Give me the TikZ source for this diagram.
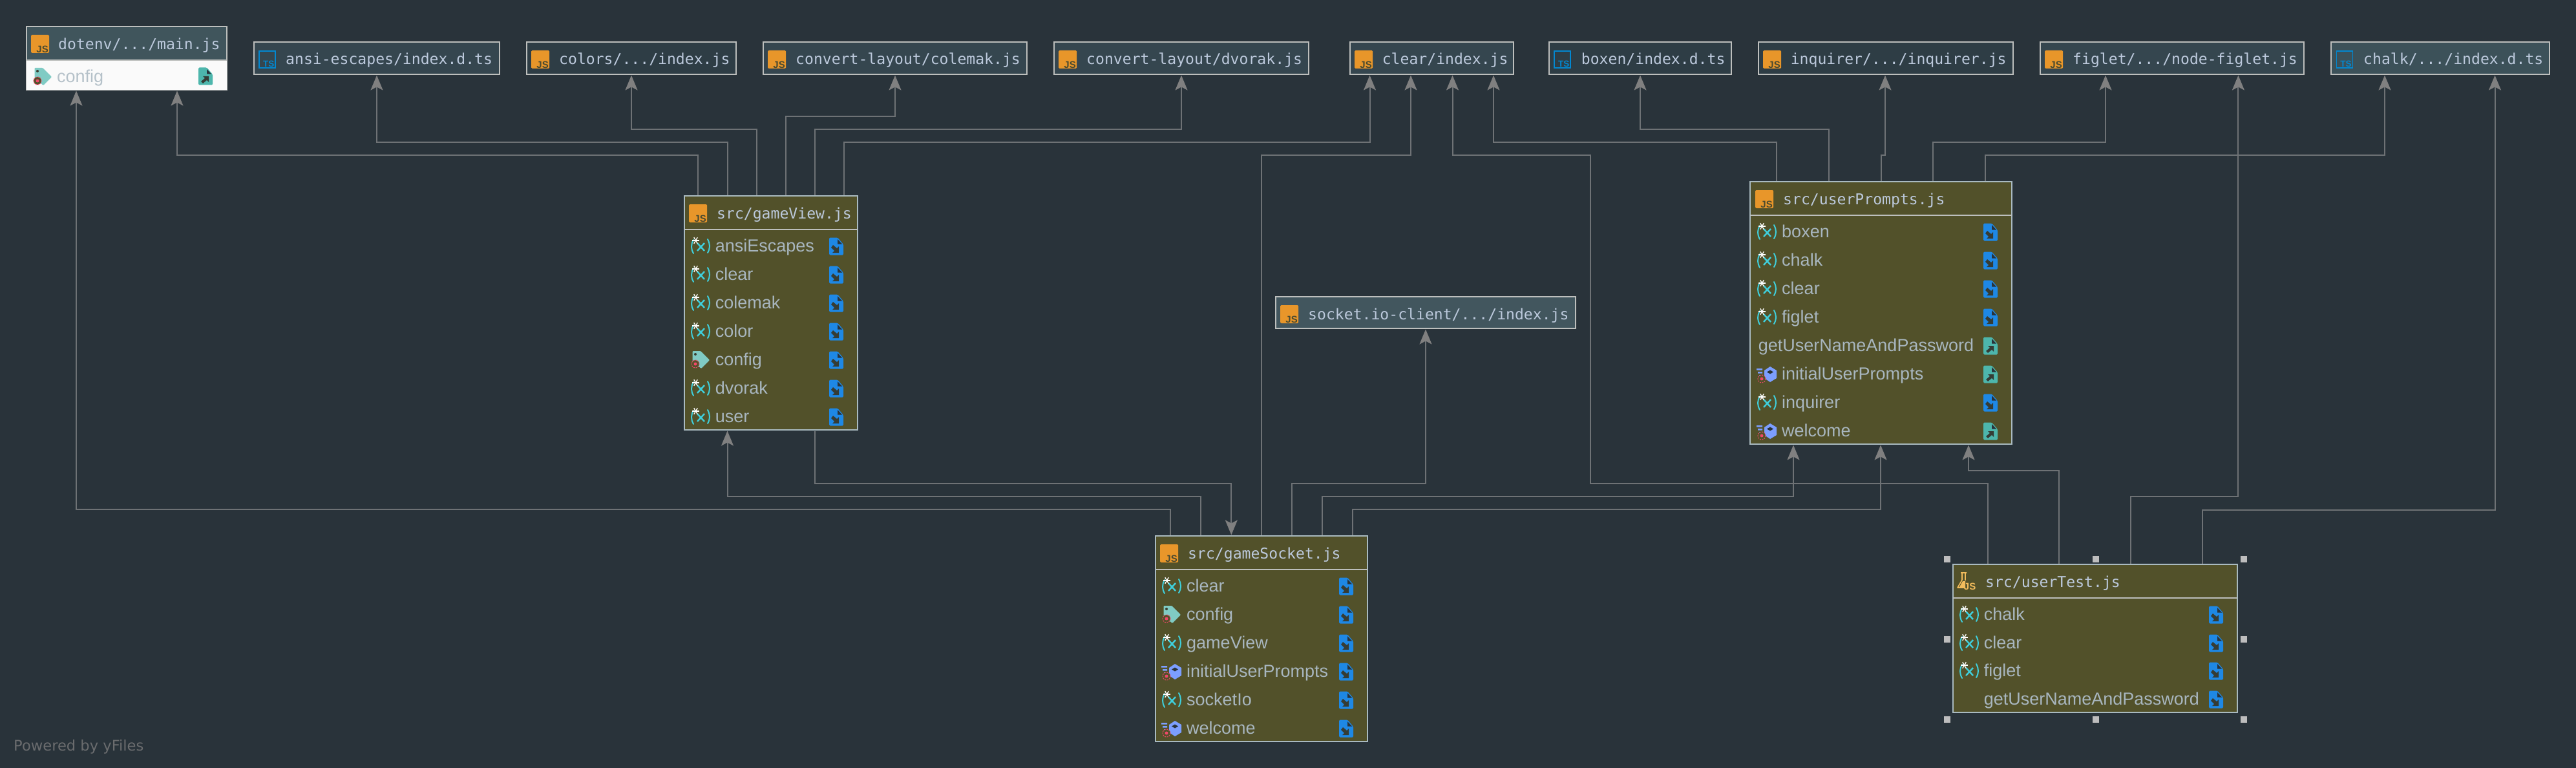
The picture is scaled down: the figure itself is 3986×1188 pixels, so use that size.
\documentclass[tikz,border=0pt]{standalone}
\usepackage{fontspec}
\setmainfont{Liberation Sans}
\setmonofont{DejaVu Sans Mono}
\newfontfamily\dvs{DejaVu Sans}
\usetikzlibrary{arrows.meta,calc}
\definecolor{bgc}{HTML}{29333A}
\definecolor{srcfill}{HTML}{52512A}
\definecolor{srcline}{HTML}{A9BAC0}
\definecolor{topline}{HTML}{BDBFBD}
\definecolor{connc}{HTML}{6E7275}
\definecolor{tipc}{HTML}{808080}
\definecolor{headtxt}{HTML}{BCC9DC}
\definecolor{bodytxt}{HTML}{A8B6BF}
\definecolor{jsorange}{HTML}{E8962A}
\definecolor{jsdark}{HTML}{4A4A30}
\definecolor{tsblue}{HTML}{0288D1}
\definecolor{fileblue}{HTML}{1E88E5}
\definecolor{fileteal}{HTML}{4DB6AC}
\definecolor{varcyan}{HTML}{3FCFDC}
\definecolor{tagteal}{HTML}{80CBC4}
\definecolor{boxviolet}{HTML}{7C9EFF}
\definecolor{redring}{HTML}{F0476A}
\definecolor{testyellow}{HTML}{F3BC5C}
\definecolor{handle}{HTML}{BDBDBD}
\definecolor{fa}{HTML}{40555C}
\definecolor{fb}{HTML}{35464F}
\definecolor{fc}{HTML}{2E3D45}
\definecolor{fd}{HTML}{3C5159}
\definecolor{fe}{HTML}{42565E}
\tikzset{
  x=1pt,y=-1pt,
  conn/.style={draw=connc,line width=2pt,rounded corners=0pt},
  arrowed/.style={conn,-{Stealth[length=23pt,width=19pt,inset=5pt,color=tipc]}},
  boxbase/.style={rectangle,inner sep=0pt,outer sep=1.5pt,line width=2pt},
  srcbox/.style={boxbase,draw=srcline,fill=srcfill},
  topbox/.style={boxbase,draw=topline},
  headlabel/.style={anchor=base west,yshift=-9.5pt,inner sep=0pt,text=headtxt,font=\ttfamily\fontsize{23.1}{26}\selectfont},
  rowlabel/.style={anchor=base west,yshift=-8.5pt,inner sep=0pt,text=bodytxt,font=\rmfamily\fontsize{27}{30}\selectfont},
  powered/.style={anchor=west,inner sep=0pt,text=gray!75!bgc,font=\dvs\fontsize{22.6}{26}\selectfont},
  sel/.style={fill=handle,draw=none,minimum size=10pt,inner sep=0pt,rectangle},
}
% box: name, x0,y0,x1,y1 (outer edges), style
\newcommand{\mkbox}[6]{%
  \pgfmathsetmacro{\bw}{#4-#2-2}\pgfmathsetmacro{\bh}{#5-#3-2}%
  \pgfmathsetmacro{\bcx}{(#2+#4)/2}\pgfmathsetmacro{\bcy}{(#3+#5)/2}%
  \node[#6,minimum width=\bw pt,minimum height=\bh pt] (#1) at (\bcx,\bcy) {};}
% icons: x = left, y = centre line
\newcommand{\jsic}[2]{\fill[jsorange,rounded corners=1.5pt] (#1,#2-14) rectangle ++(28,28);
  \node[anchor=south east,inner sep=0pt,text=jsdark,font=\rmfamily\bfseries\fontsize{15}{15}\selectfont] at (#1+27,#2+14) {JS};}
\newcommand{\tsic}[2]{\draw[tsblue,line width=1.3pt] (#1,#2-13) rectangle ++(25,26);
  \node[anchor=south east,inner sep=0pt,text=tsblue,font=\rmfamily\bfseries\fontsize{13.5}{14}\selectfont] at (#1+23.5,#2+12) {TS};}
\newcommand{\fileic}[3]{% x left, y centre, colour
  \fill[#3,rounded corners=1.5pt] (#1,#2-13.5) -- (#1+13,#2-13.5) -- (#1+22,#2-3) -- (#1+22,#2+13.5) -- (#1,#2+13.5) -- cycle;
  \fill[bgc] (#1+13,#2-11) -- (#1+20,#2-3.5) -- (#1+13,#2-3.5) -- cycle;}
\newcommand{\inarrow}[2]{\fill[srcfill!30!bgc] (#1+6,#2-2) -- (#1+12,#2+3) -- (#1+15,#2) -- (#1+15,#2+10) -- (#1+5,#2+10) -- (#1+8,#2+7) -- (#1+3,#2+2) -- cycle;}
\newcommand{\outarrow}[2]{\fill[srcfill!30!bgc] (#1+4,#2+8) -- (#1+10,#2+3) -- (#1+7,#2) -- (#1+16,#2) -- (#1+16,#2+9) -- (#1+13,#2+6) -- (#1+7,#2+11) -- cycle;}
\newcommand{\fin}[2]{\fileic{#1}{#2}{fileblue}\inarrow{#1}{#2}}
\newcommand{\fout}[2]{\fileic{#1}{#2}{fileteal}\outarrow{#1}{#2}}
\newcommand{\varic}[2]{% x left, y centre
  \draw[varcyan,line width=2pt,line cap=round] (#1+3,#2-10) .. controls (#1-1,#2-3) and (#1-1,#2+4) .. (#1+3,#2+11);
  \draw[varcyan,line width=2pt,line cap=round] (#1+25,#2-11) .. controls (#1+29,#2-3) and (#1+29,#2+3) .. (#1+25,#2+10);
  \draw[varcyan,line width=2.4pt] (#1+9,#2-5) -- (#1+20,#2+7) (#1+20,#2-5) -- (#1+9,#2+7);
  \foreach \ang in {0,60,120}{\draw[white,line width=1.3pt] ($(#1+6.5,#2-9)+(\ang:5.5)$) -- ($(#1+6.5,#2-9)+(\ang+180:5.5)$);}}
\newcommand{\ringic}[2]{\draw[redring,line width=1pt,dash pattern=on 2pt off 1.5pt,fill=srcfill] (#1,#2) circle (6);
  \fill[redring] (#1,#2) circle (2.5);}
\newcommand{\tagic}[2]{% x left, y centre
  \fill[tagteal,rounded corners=1pt] (#1+1.5,#2-14) -- (#1+14,#2-14) -- (#1+28,#2) -- (#1+15,#2+13) -- (#1+1.5,#2+2) -- cycle;
  \fill[srcfill!45!bgc] (#1+6,#2-9) circle (2);
  \ringic{#1+6}{#2+6}}
\newcommand{\boxic}[2]{% x left, y centre
  \fill[boxviolet] (#1+21,#2-12) -- (#1+31,#2-6) -- (#1+31,#2+6) -- (#1+21,#2+12) -- (#1+12,#2+6) -- (#1+12,#2-6) -- cycle;
  \fill[bgc] (#1+21,#2-6.5) -- (#1+26,#2-3.5) -- (#1+21,#2-.5) -- (#1+16,#2-3.5) -- cycle;
  \fill[boxviolet] (#1,#2-9) rectangle ++(9,2.5) (#1+2,#2-4) rectangle ++(7,2.5) (#1+4,#2+1) rectangle ++(5,2.5);
  \ringic{#1+8}{#2+7}}
\newcommand{\testic}[2]{% x left, y centre
  \draw[testyellow,line width=1.6pt,line join=round] (#1+5,#2-14) -- (#1+14,#2-14) (#1+7,#2-14) -- (#1+7,#2-3) -- (#1,#2+9) -- (#1+12,#2+9);
  \draw[testyellow,line width=1.6pt] (#1+12,#2-14) -- (#1+12,#2-2);
  \fill[testyellow] (#1+3,#2+8) -- (#1+8,#2-1) -- (#1+12,#2-1) -- (#1+12,#2+8) -- cycle;
  \node[anchor=south east,inner sep=0pt,text=testyellow,font=\rmfamily\bfseries\fontsize{15}{15}\selectfont] at (#1+28.5,#2+13) {JS};}
\newcommand{\rowv}[6]{\varic{#5}{#3}\node[rowlabel] (#1) at (#4,#3) {#2};\fin{#6}{#3}}
\begin{document}
\begin{tikzpicture}
\useasboundingbox (0,0) rectangle (3986,1188);
\fill[bgc] (0,0) rectangle (3986,1188);
% boxes
\mkbox{dotenv}{40}{40}{352}{140}{boxbase,draw=topline,fill=fa}
\mkbox{ansi}{392}{64}{774}{116}{topbox,fill=fb}
\mkbox{colors}{814}{64}{1140}{116}{topbox,fill=fc}
\mkbox{colemak}{1180}{64}{1590}{116}{topbox,fill=fb}
\mkbox{dvorak}{1630}{64}{2026}{116}{topbox,fill=fb}
\mkbox{clear}{2088}{64}{2343}{116}{topbox,fill=fb}
\mkbox{boxen}{2396}{64}{2680}{116}{topbox,fill=fc}
\mkbox{inquirer}{2720}{64}{3116}{116}{topbox,fill=fc}
\mkbox{figlet}{3155.5}{64}{3566}{116}{topbox,fill=fb}
\mkbox{chalk}{3606}{64}{3946}{116}{topbox,fill=fd}
\mkbox{socket}{1973}{458}{2439}{509}{topbox,fill=fe}
\mkbox{gv}{1058}{302}{1328}{666}{srcbox}
\mkbox{gs}{1787}{828}{2117}{1148}{srcbox}
\mkbox{up}{2707}{280}{3114}{688}{srcbox}
\mkbox{ut}{3020.7}{872}{3462.5}{1103}{srcbox}
% connectors
\draw[arrowed] (1080,0 |- gv.north) -- (1080,240) -- (274,240) -- (274,0 |- dotenv.south);
\draw[arrowed] (1125.5,0 |- gv.north) -- (1125.5,220) -- (583,220) -- (583,0 |- ansi.south);
\draw[arrowed] (1170.5,0 |- gv.north) -- (1170.5,200) -- (977,200) -- (977,0 |- colors.south);
\draw[arrowed] (1215.5,0 |- gv.north) -- (1215.5,180) -- (1385,180) -- (1385,0 |- colemak.south);
\draw[arrowed] (1260.5,0 |- gv.north) -- (1260.5,200) -- (1828,200) -- (1828,0 |- dvorak.south);
\draw[arrowed] (1305.5,0 |- gv.north) -- (1305.5,220) -- (2119.5,220) -- (2119.5,0 |- clear.south);
\draw[arrowed] (1810.6,0 |- gs.north) -- (1810.6,788) -- (118,788) -- (118,0 |- dotenv.south);
\draw[arrowed] (1857.6,0 |- gs.north) -- (1857.6,768) -- (1125.5,768) -- (1125.5,0 |- gv.south);
\draw[arrowed] (1260.5,0 |- gv.south) -- (1260.5,748) -- (1905.3,748) -- (1905.3,0 |- gs.north);
\draw[arrowed] (1952,0 |- gs.north) -- (1952,240) -- (2183,240) -- (2183,0 |- clear.south);
\draw[arrowed] (1999.3,0 |- gs.north) -- (1999.3,748) -- (2206,748) -- (2206,0 |- socket.south);
\draw[arrowed] (2046.3,0 |- gs.north) -- (2046.3,768) -- (2775,768) -- (2775,0 |- up.south);
\draw[arrowed] (2093.3,0 |- gs.north) -- (2093.3,788) -- (2910,788) -- (2910,0 |- up.south);
\draw[arrowed] (2749,0 |- up.north) -- (2749,220) -- (2311,220) -- (2311,0 |- clear.south);
\draw[arrowed] (2829.5,0 |- up.north) -- (2829.5,200) -- (2538,200) -- (2538,0 |- boxen.south);
\draw[arrowed] (2910.5,0 |- up.north) -- (2910.5,240) -- (2917,240) -- (2917,0 |- inquirer.south);
\draw[arrowed] (2991,0 |- up.north) -- (2991,220) -- (3258,220) -- (3258,0 |- figlet.south);
\draw[arrowed] (3072,0 |- up.north) -- (3072,240) -- (3690,240) -- (3690,0 |- chalk.south);
\draw[arrowed] (3075.7,0 |- ut.north) -- (3075.7,748) -- (2460.7,748) -- (2460.7,240) -- (2247.5,240) -- (2247.5,0 |- clear.south);
\draw[arrowed] (3186.4,0 |- ut.north) -- (3186.4,728) -- (3046,728) -- (3046,0 |- up.south);
\draw[arrowed] (3296.5,0 |- ut.north) -- (3296.5,768) -- (3463.4,768) -- (3463.4,0 |- figlet.south);
\draw[arrowed] (3407.5,0 |- ut.north) -- (3407.5,789) -- (3860.5,789) -- (3860.5,0 |- chalk.south);
% dotenv
\fill[white!98!black] (41,94) rectangle (351,139);
\draw[topline,line width=2pt] (41,93) -- (351,93);
\jsic{48}{68}\node[headlabel] (tdotenv) at (90,67) {dotenv/.../main.js};
\tagic{52}{119}
\node[rowlabel,text=bodytxt!85!white] (rdotenv) at (88,119) {config};
\fout{307}{118}
% top nodes
\tsic{401}{92}\node[headlabel] (tansi) at (442,90.5) {ansi-escapes/index.d.ts};
\jsic{822}{92}\node[headlabel] (tcolors) at (865,90.5) {colors/.../index.js};
\jsic{1188}{92}\node[headlabel] (tcolemak) at (1231,90.5) {convert-layout/colemak.js};
\jsic{1638}{92}\node[headlabel] (tdvorak) at (1681,90.5) {convert-layout/dvorak.js};
\jsic{2096}{92}\node[headlabel] (tclear) at (2138.6,90.5) {clear/index.js};
\tsic{2405}{92}\node[headlabel] (tboxen) at (2446.7,90.5) {boxen/index.d.ts};
\jsic{2728}{92}\node[headlabel] (tinquirer) at (2770.6,90.5) {inquirer/.../inquirer.js};
\jsic{3164}{92}\node[headlabel] (tfiglet) at (3207,90.5) {figlet/.../node-figlet.js};
\tsic{3615.4}{92}\node[headlabel] (tchalk) at (3657,90.5) {chalk/.../index.d.ts};
\jsic{1981}{486}\node[headlabel] (tsocket) at (2024,484.5) {socket.io-client/.../index.js};
% gameView
\draw[topline,line width=2pt] (1059,355) -- (1327,355);
\jsic{1066}{330}\node[headlabel] (tgv) at (1109,329) {src/gameView.js};
\rowv{a1}{ansiEscapes}{381}{1106.7}{1070}{1283}
\rowv{a2}{clear}{425}{1106.7}{1070}{1283}
\rowv{a3}{colemak}{469}{1106.7}{1070}{1283}
\rowv{a4}{color}{513}{1106.7}{1070}{1283}
\tagic{1070}{557}\node[rowlabel] (a5) at (1106.7,557) {config};\fin{1283}{557}
\rowv{a6}{dvorak}{601}{1106.7}{1070}{1283}
\rowv{a7}{user}{645}{1106.7}{1070}{1283}
% gameSocket
\draw[topline,line width=2pt] (1788,881) -- (2116,881);
\jsic{1795}{856}\node[headlabel] (tgs) at (1838,855) {src/gameSocket.js};
\rowv{b1}{clear}{907}{1836}{1799}{2072}
\tagic{1799}{951}\node[rowlabel] (b2) at (1836,951) {config};\fin{2072}{951}
\rowv{b3}{gameView}{995}{1836}{1799}{2072}
\boxic{1797}{1039}\node[rowlabel] (b4) at (1836,1039) {initialUserPrompts};\fin{2072}{1039}
\rowv{b5}{socketIo}{1083}{1836}{1799}{2072}
\boxic{1797}{1127}\node[rowlabel] (b6) at (1836,1127) {welcome};\fin{2072}{1127}
% userPrompts
\draw[topline,line width=2pt] (2708,333) -- (3113,333);
\jsic{2716}{308}\node[headlabel] (tup) at (2759,307) {src/userPrompts.js};
\rowv{c1}{boxen}{359}{2757}{2720}{3069}
\rowv{c2}{chalk}{403}{2757}{2720}{3069}
\rowv{c3}{clear}{447}{2757}{2720}{3069}
\rowv{c4}{figlet}{491}{2757}{2720}{3069}
\node[rowlabel] (c5) at (2720.7,535) {getUserNameAndPassword};\fout{3069}{535}
\boxic{2718}{579}\node[rowlabel] (c6) at (2757,579) {initialUserPrompts};\fout{3069}{579}
\rowv{c7}{inquirer}{623}{2757}{2720}{3069}
\boxic{2718}{667}\node[rowlabel] (c8) at (2757,667) {welcome};\fout{3069}{667}
% userTest
\draw[topline,line width=2pt] (3021.7,925) -- (3461.5,925);
\testic{3029}{900}\node[headlabel] (tut) at (3072,899) {src/userTest.js};
\rowv{d1}{chalk}{951}{3069.6}{3033}{3418}
\rowv{d2}{clear}{995}{3069.6}{3033}{3418}
\rowv{d3}{figlet}{1038}{3069.6}{3033}{3418}
\node[rowlabel] (d4) at (3069.6,1082) {getUserNameAndPassword};\fin{3418}{1082}
% selection handles
\foreach \hx/\hy [count=\i] in {3013/865,3242.5/865,3471.5/865,3013/989,3471.5/989,3013/1112.7,3242.5/1112.7,3471.5/1112.7}
  \node[sel] (h\i) at (\hx,\hy) {};
\node[powered] (yf) at (21,1155) {Powered by yFiles};
\end{tikzpicture}
\end{document}
